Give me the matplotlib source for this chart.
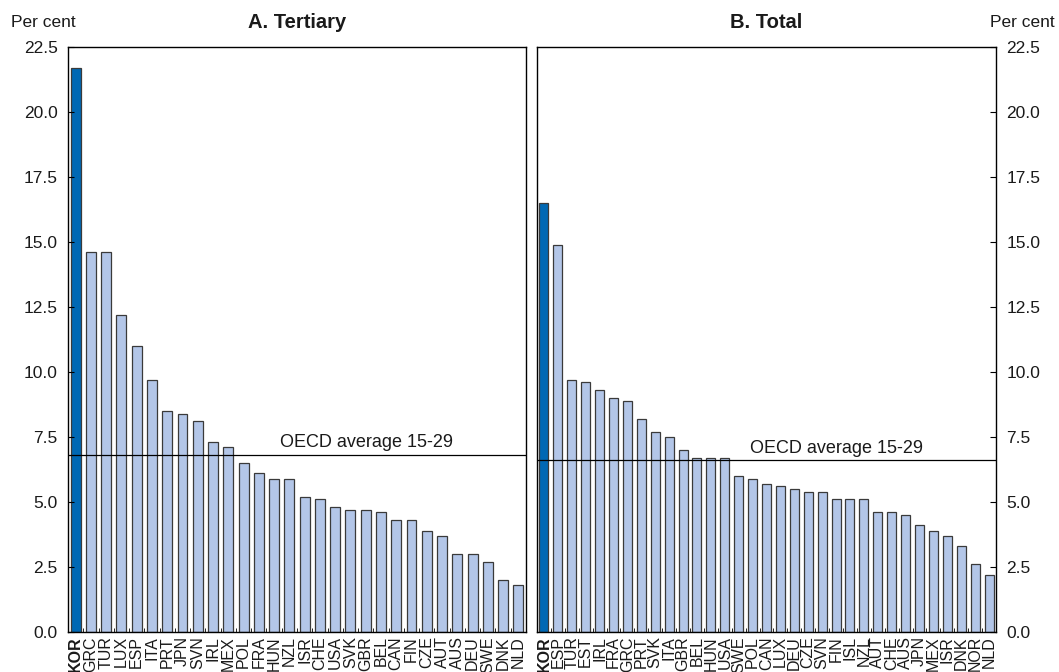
import matplotlib
matplotlib.use("Agg")
import matplotlib.pyplot as plt
import numpy as np

plt.rcParams["font.family"] = ["Liberation Sans", "DejaVu Sans"]

# ---------------------------------------------------------------------------
# Data
# ---------------------------------------------------------------------------
tertiary_countries = [
    "KOR", "GRC", "TUR", "LUX", "ESP", "ITA", "PRT", "JPN", "SVN", "IRL",
    "MEX", "POL", "FRA", "HUN", "NZL", "ISR", "CHE", "USA", "SVK", "GBR",
    "BEL", "CAN", "FIN", "CZE", "AUT", "AUS", "DEU", "SWE", "DNK", "NLD",
]
tertiary_values = [
    21.7, 14.6, 14.6, 12.2, 11.0, 9.7, 8.5, 8.4, 8.1, 7.3,
    7.1, 6.5, 6.1, 5.9, 5.9, 5.2, 5.1, 4.8, 4.7, 4.7,
    4.6, 4.3, 4.3, 3.9, 3.7, 3.0, 3.0, 2.7, 2.0, 1.8,
]
tertiary_avg = 6.8

total_countries = [
    "KOR", "ESP", "TUR", "EST", "IRL", "FRA", "GRC", "PRT", "SVK", "ITA",
    "GBR", "BEL", "HUN", "USA", "SWE", "POL", "CAN", "LUX", "DEU", "CZE",
    "SVN", "FIN", "ISL", "NZL", "AUT", "CHE", "AUS", "JPN", "MEX", "ISR",
    "DNK", "NOR", "NLD",
]
total_values = [
    16.5, 14.9, 9.7, 9.6, 9.3, 9.0, 8.9, 8.2, 7.7, 7.5,
    7.0, 6.7, 6.7, 6.7, 6.0, 5.9, 5.7, 5.6, 5.5, 5.4,
    5.4, 5.1, 5.1, 5.1, 4.6, 4.6, 4.5, 4.1, 3.9, 3.7,
    3.3, 2.6, 2.2,
]
total_avg = 6.6

highlight = "KOR"
yticks = [0.0, 2.5, 5.0, 7.5, 10.0, 12.5, 15.0, 17.5, 20.0, 22.5]

DARK = "#0068b4"
LIGHT = "#b3c6e8"
EDGE = "#3a3a3a"
TEXT = "#1a1a1a"


def draw_panel(ax, countries, values, avg, title, side):
    x = np.arange(len(countries))
    colors = [DARK if c == highlight else LIGHT for c in countries]
    ax.bar(x, values, width=0.65, color=colors, edgecolor=EDGE, linewidth=0.9)
    ax.axhline(avg, color="black", linewidth=0.9)
    ax.text(0.652, avg + 0.3, "OECD average 15-29", transform=ax.get_yaxis_transform(),
            ha="center", va="baseline", fontsize=13, color=TEXT)

    ax.set_xlim(-0.5, len(countries) - 0.5)
    ax.set_ylim(0, 22.5)
    ax.set_yticks(yticks)
    ax.set_yticklabels([f"{t:.1f}" for t in yticks], fontsize=12.5, color=TEXT)

    ax.set_xticks(x)
    ax.set_xticklabels(countries, rotation=90, fontsize=11.5, color=TEXT)
    for lbl in ax.get_xticklabels():
        if lbl.get_text() == highlight:
            lbl.set_fontweight("bold")
    ax.set_xticks(np.arange(len(countries) + 1) - 0.5, minor=True)
    ax.tick_params(axis="x", which="major", length=0, pad=3)
    ax.tick_params(axis="x", which="minor", direction="in", length=3, width=0.6)

    if side == "left":
        ax.yaxis.tick_left()
    else:
        ax.yaxis.tick_right()
    ax.tick_params(axis="y", direction="in", length=4, width=0.8, pad=7.5)

    for s in ax.spines.values():
        s.set_linewidth(1.0)

    ax.set_title(title, fontsize=14.5, fontweight="bold", pad=14, color=TEXT)


fig = plt.figure(figsize=(10.59, 6.72), dpi=100)
ax1 = fig.add_axes([0.0642, 0.0595, 0.4325, 0.8705])
ax2 = fig.add_axes([0.5071, 0.0595, 0.4334, 0.8705])

draw_panel(ax1, tertiary_countries, tertiary_values, tertiary_avg, "A. Tertiary", "left")
draw_panel(ax2, total_countries, total_values, total_avg, "B. Total", "right")

fig.text(0.0104, 0.967, "Per cent", ha="left", va="center", fontsize=12.5, color=TEXT)
fig.text(0.996, 0.967, "Per cent", ha="right", va="center", fontsize=12.5, color=TEXT)

fig.savefig("out.png", dpi=100)
